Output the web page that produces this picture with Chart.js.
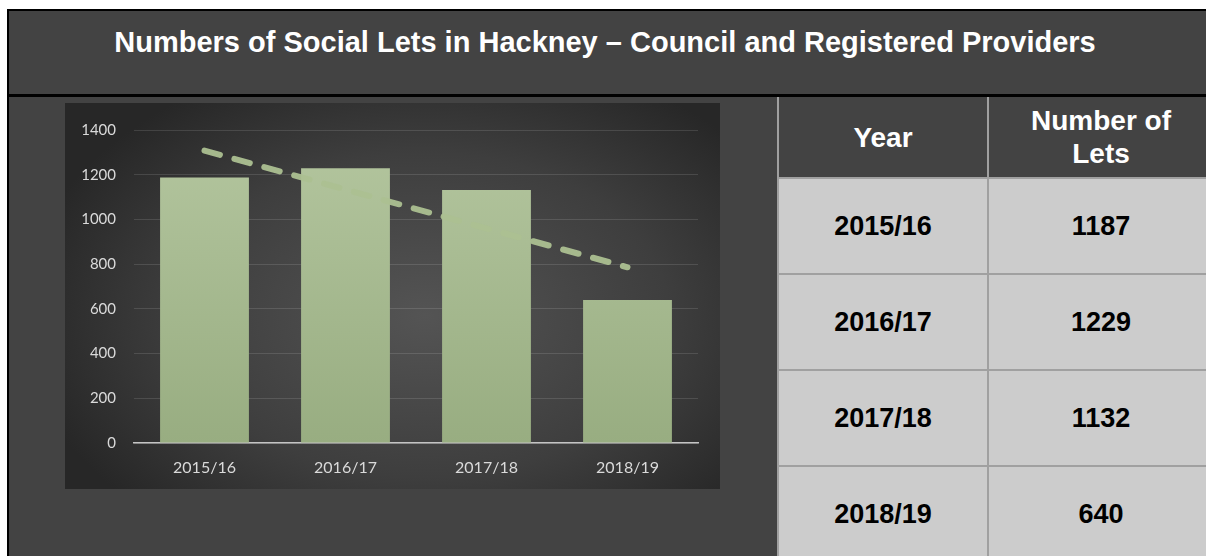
<!DOCTYPE html>
<html>
<head>
<meta charset="utf-8">
<title>Numbers of Social Lets in Hackney</title>
<script src="https://cdn.jsdelivr.net/npm/chart.js@4.4.1/dist/chart.umd.min.js"></script>
<style>
body{margin:0;background:#fff;width:1206px;height:556px;overflow:hidden;position:relative;font-family:"Liberation Sans",Arial,sans-serif;}
#frame{position:absolute;left:7px;top:9px;width:1240px;height:620px;border:2px solid #000;background:#434343;}
#title{position:absolute;left:9px;top:28px;width:1192px;text-align:center;color:#fff;font-weight:bold;font-size:29px;line-height:29px;white-space:nowrap;}
#rule{position:absolute;left:9px;top:94px;width:1240px;height:3px;background:#000;}
#chartBox{position:absolute;left:65px;top:103px;width:655px;height:386px;
  background:radial-gradient(ellipse 62% 70% at 55% 55%, #545454 0%, #3e3e3e 60%, #272727 100%);}
#lets{position:absolute;left:777px;top:97px;display:grid;grid-template-columns:208px 224px;
  grid-template-rows:80px 94px 94px 94px 94px;gap:2px;padding-left:2px;background:#a0a0a0;}
#lets div{display:flex;align-items:center;justify-content:center;text-align:center;font-weight:bold;font-size:27px;}
#lets .head{background:#434343;color:#fff;line-height:33px;font-size:28px;}
#lets .cell{background:#cccccc;color:#000;}
</style>
</head>
<body>
<div id="frame"></div>
<div id="title">Numbers of Social Lets in Hackney – Council and Registered Providers</div>
<div id="rule"></div>
<div id="chartBox"><canvas id="letsChart"></canvas></div>
<div id="lets"></div>

<script>
// lets per year
var years = ["2015/16", "2016/17", "2017/18", "2018/19"];
var lets = [1187, 1229, 1132, 640];
// dashed trend, only the two ends are drawn, spanGaps joins them
var trend = [1308, null, null, 786];
var yMax = 1400;
var yStep = 200;
var headers = ["Year", "Number of<br>Lets"];

// table on the right
var tbl = document.getElementById("lets");
function addCell(html, cls) {
    var d = document.createElement("div");
    d.className = cls;
    d.innerHTML = html;
    tbl.appendChild(d);
}
for (var h = 0; h < headers.length; h++) {
    addCell(headers[h], "head");
}
for (var i = 0; i < years.length; i++) {
    addCell(years[i], "cell");
    addCell(String(lets[i]), "cell");
}

Chart.defaults.font.family = 'Lato';
Chart.defaults.font.size = 15;
Chart.defaults.color = '#dadada';

function barFill(c) {
    var area = c.chart.chartArea;
    if (!area) {
        return '#a7bb91';
    }
    var g = c.chart.ctx.createLinearGradient(0, area.top, 0, area.bottom);
    g.addColorStop(0, '#b4c69f');
    g.addColorStop(1, '#98ad81');
    return g;
}

var ctx = document.getElementById('letsChart').getContext('2d');
var letsChart = new Chart(ctx, {
    type: 'bar',
    data: {
        labels: years,
        datasets: [{
            type: 'line',
            data: trend,
            spanGaps: true,
            fill: false,
            borderColor: 'rgba(172,192,145,0.95)',
            borderWidth: 6,
            borderDash: [16, 15],
            borderCapStyle: 'round',
            pointRadius: 0,
            order: 0
        }, {
            data: lets,
            backgroundColor: barFill,
            barPercentage: 0.63,
            categoryPercentage: 1,
            order: 1
        }]
    },
    options: {
        responsive: true,
        maintainAspectRatio: false,
        animation: false,
        layout: {
            padding: {top: 21, right: 22, left: 0, bottom: 0}
        },
        plugins: {
            legend: {display: false},
            tooltip: {enabled: false}
        },
        scales: {
            x: {
                grid: {display: false},
                border: {color: '#c4c4c4', width: 1.5},
                ticks: {padding: 7, font: {size: 16}},
                afterFit: function (s) { s.height = 46; }
            },
            y: {
                min: 0,
                max: yMax,
                ticks: {
                    stepSize: yStep,
                    padding: 18,
                    callback: function (v) { return String(v); }
                },
                grid: {color: 'rgba(255,255,255,0.12)', drawTicks: false},
                border: {display: false},
                afterFit: function (s) { s.width = 69; }
            }
        }
    }
});
</script>
</body>
</html>
